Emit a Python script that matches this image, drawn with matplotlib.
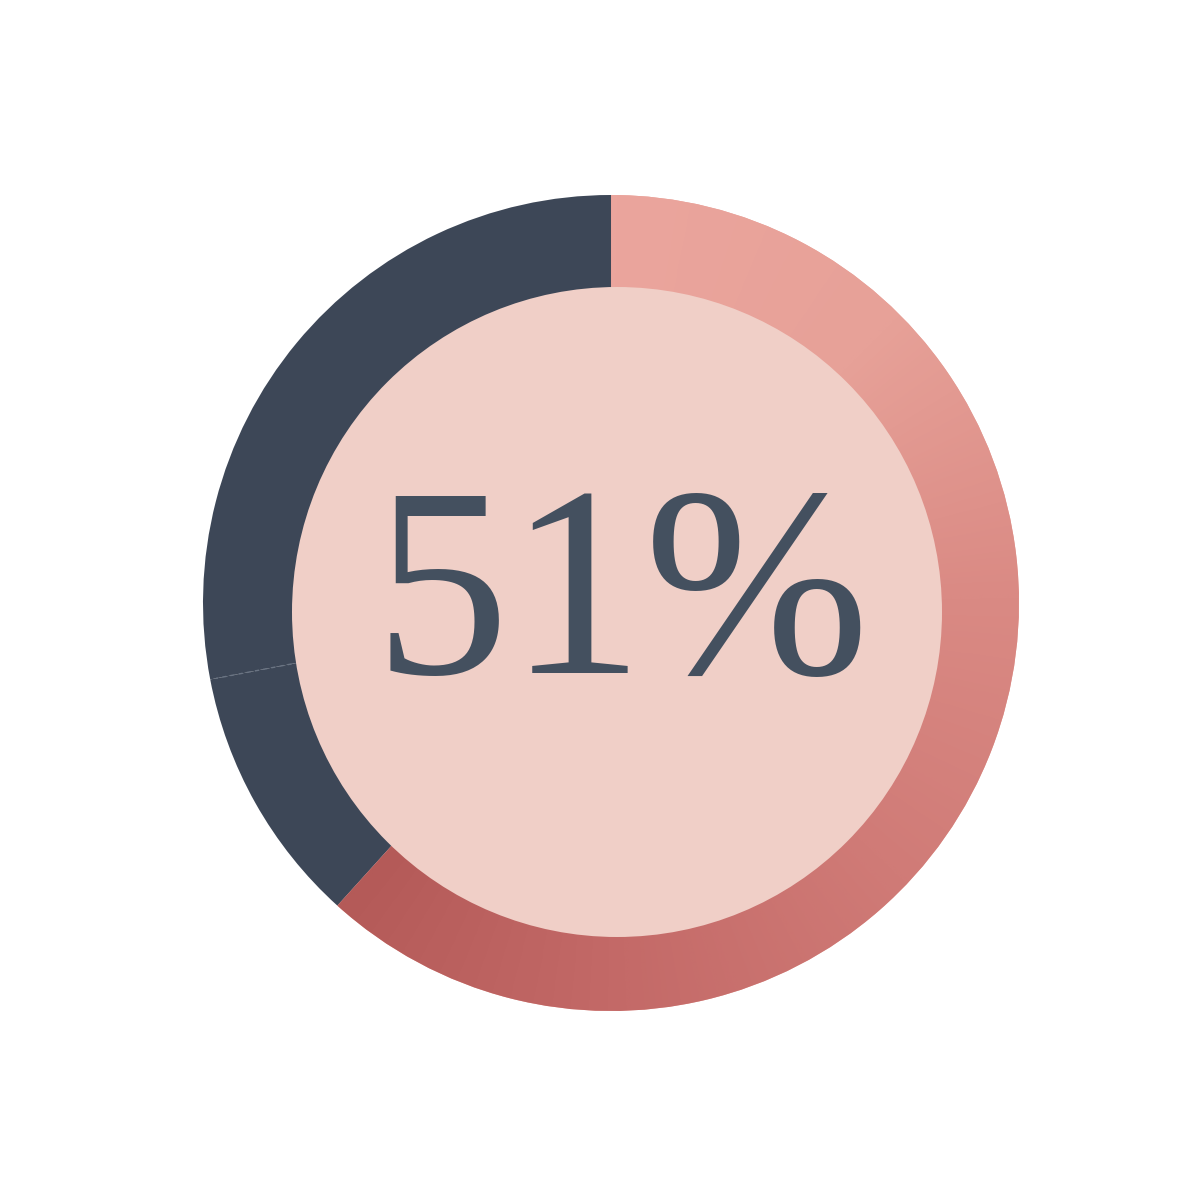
import numpy as np
import matplotlib
matplotlib.use("Agg")
import matplotlib.pyplot as plt
from matplotlib.colors import LinearSegmentedColormap
from matplotlib.patches import Circle

# ---- data ----
segment_labels = ["Share", "Other A", "Other B"]
segment_values = [61.7, 10.3, 28.0]
center_label = "51%"

# gradient stops along the highlighted arc (fraction of arc -> colour)
grad_positions = [0.0, 0.2, 0.4, 0.6, 0.8, 1.0]
grad_colors = ["#EBA59D", "#E7A198", "#DA8A84", "#D07B77", "#C46A68", "#B45A58"]

dark_color = "#3D4757"
inner_color = "#F0CFC7"
text_color = "#44505F"

fig = plt.figure(figsize=(12, 12), dpi=100)
fig.patch.set_facecolor("white")
ax = fig.add_axes([0, 0, 1, 1])

cx, cy, R = 611, 597, 408
wedges, _ = ax.pie(segment_values, colors=[grad_colors[0], dark_color, dark_color],
                   startangle=90, counterclock=False, radius=R, center=(cx, cy),
                   wedgeprops=dict(linewidth=0, antialiased=True))

# angular gradient on the first wedge
cmap = LinearSegmentedColormap.from_list("arc", list(zip(grad_positions, grad_colors)))
xs = np.linspace(cx - R, cx + R, 900)
ys = np.linspace(cy - R, cy + R, 900)
X, Y = np.meshgrid(xs, ys)
ang = (90 - np.degrees(np.arctan2(Y - cy, X - cx))) % 360
span = 360 * segment_values[0] / sum(segment_values)
T = np.clip(ang / span, 0, 1)
im = ax.imshow(T, cmap=cmap, vmin=0, vmax=1, origin="lower",
               extent=(cx - R, cx + R, cy - R, cy + R), interpolation="bilinear", zorder=2)
im.set_clip_path(wedges[0])

# faint dashed divider between the two dark segments
cum = np.cumsum(segment_values) / sum(segment_values)
theta = np.radians(90 - 360 * cum[1])
r_in, r_out = 300, R - 6
ax.plot([cx + r_in * np.cos(theta), cx + r_out * np.cos(theta)],
        [cy + r_in * np.sin(theta), cy + r_out * np.sin(theta)],
        ls=(0, (3, 3)), color="#6A7483", lw=1.0, zorder=3)

# inner disc
ax.add_patch(Circle((617, 588), 325, facecolor=inner_color, edgecolor="none", zorder=4))

ax.text(622, 527, center_label, ha="center", va="baseline", fontsize=195,
        family=["Liberation Serif", "DejaVu Serif"], color=text_color, zorder=5)

ax.set_xlim(0, 1200)
ax.set_ylim(0, 1200)
ax.set_aspect("equal")
ax.set_axis_off()

fig.savefig("out.png", dpi=100, facecolor="white")
